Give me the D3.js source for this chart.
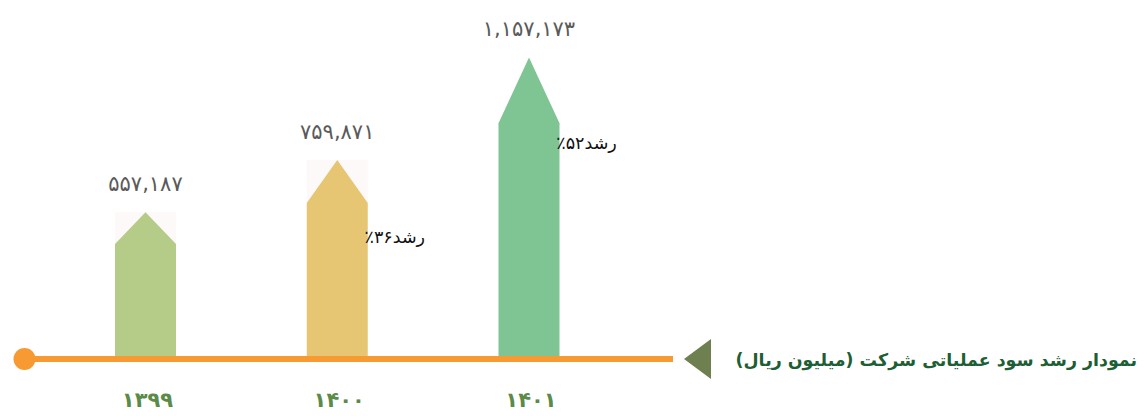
<!DOCTYPE html>
<html><head><meta charset="utf-8">
<script src="https://cdn.jsdelivr.net/npm/d3@7"></script>
<style>html,body{margin:0;padding:0;background:#fff;}svg{display:block;}</style>
</head><body>
<svg id="c" width="1144" height="416"></svg>
<script>
const categories = ["۱۳۹۹", "۱۴۰۰", "۱۴۰۱"];
const values = [557187, 759871, 1157173];
const valueLabels = ["۵۵۷,۱۸۷", "۷۵۹,۸۷۱", "۱,۱۵۷,۱۷۳"];
const growthLabels = [null, "رشد۳۶٪", "رشد۵۲٪"];
const colors = ["#b5cc88", "#e6c573", "#7fc493"];
const title = "نمودار رشد سود عملیاتی شرکت (میلیون ریال)";

const svg = d3.select("#c");
const baseY = 356;
const x = d3.scalePoint().domain(categories).range([145.5, 529]);
const y = d3.scaleLinear().domain([0, 1380000]).range([baseY, 0]);
const bw = 61;
const shoulder = 0.78;
const fontFa = "'DejaVu Sans', sans-serif";

const data = categories.map((c, i) => ({c, v: values[i], lab: valueLabels[i], g: growthLabels[i], col: colors[i], i}));

// faint backdrop behind arrow tips
svg.selectAll("rect.bg").data(data.filter(d => d.i < 2)).join("rect")
  .attr("x", d => x(d.c) - bw/2).attr("width", bw)
  .attr("y", d => y(d.v)).attr("height", d => y(d.v*shoulder) - y(d.v))
  .attr("fill", "#fdf9f9");

// arrow bars
svg.selectAll("path.bar").data(data).join("path")
  .attr("d", d => {
    const cx = x(d.c), l = cx - bw/2, r = cx + bw/2;
    return `M${l},${baseY} L${l},${y(d.v*shoulder)} L${cx},${y(d.v)} L${r},${y(d.v*shoulder)} L${r},${baseY} Z`;
  })
  .attr("fill", d => d.col);

// value labels
svg.selectAll("text.val").data(data).join("text")
  .attr("x", d => x(d.c)).attr("y", d => y(d.v) - 21)
  .attr("text-anchor", "middle")
  .attr("font-family", fontFa).attr("font-size", 21)
  .attr("fill", "#5a5a5a")
  .text(d => d.lab);

// growth labels
svg.selectAll("text.gr").data(data.filter(d => d.g)).join("text")
  .attr("x", d => x(d.c) + bw/2 + 27)
  .attr("y", (d, k) => k === 0 ? 243 : 149)
  .attr("text-anchor", "middle")
  .attr("direction", "rtl")
  .attr("font-family", fontFa).attr("font-size", 17.5)
  .attr("fill", "#111")
  .text(d => d.g);

// axis line
svg.append("line").attr("x1", 24).attr("x2", 673).attr("y1", 359).attr("y2", 359)
  .attr("stroke", "#f79a32").attr("stroke-width", 6);
svg.append("circle").attr("cx", 24.5).attr("cy", 359).attr("r", 11).attr("fill", "#f79a32");

// triangle
svg.append("path").attr("d", "M684,359 L711,339 L711,379 Z").attr("fill", "#6e7f50");

// category labels
svg.selectAll("text.cat").data(data).join("text")
  .attr("x", d => x(d.c) + 2).attr("y", 407)
  .attr("text-anchor", "middle")
  .attr("font-family", fontFa).attr("font-size", 21).attr("font-weight", "bold")
  .attr("fill", "#5b8a49")
  .text(d => d.c);

// title
const t = svg.append("text").attr("x", 1137).attr("y", 366)
  .attr("text-anchor", "start").attr("direction", "rtl")
  .attr("font-family", fontFa).attr("font-size", 21).attr("font-weight", "bold")
  .attr("fill", "#1d5e34")
  .text(title);
const w = t.node().getComputedTextLength();
if (w > 0) t.attr("font-size", 21 * 402 / w);
</script>
</body></html>
